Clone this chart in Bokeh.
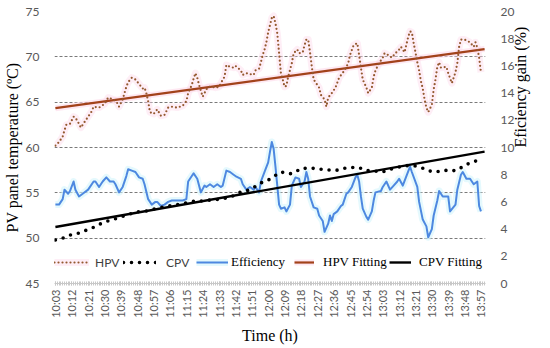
import numpy as np
from bokeh.plotting import figure
from bokeh.models import (Range1d, LinearAxis, FixedTicker, Legend, LegendItem,
                          ColumnDataSource)
from bokeh.embed import file_html
from bokeh.resources import INLINE

# ---------------- data (minutes after 10:03) ----------------
tick_labels = ["10:03", "10:12", "10:21", "10:30", "10:39", "10:48", "10:57",
               "11:06", "11:15", "11:24", "11:33", "11:42", "11:51", "12:00",
               "12:09", "12:18", "12:27", "12:36", "12:45", "12:54", "13:03",
               "13:12", "13:21", "13:30", "13:39", "13:48", "13:57"]
tick_minutes = [0, 9, 18, 27, 36, 45, 54, 63, 72, 81, 90, 99, 108, 117, 126,
                135, 144, 153, 162, 171, 180, 189, 198, 207, 216, 225, 234]

hpv_min = [0, 2, 4, 5, 6, 8, 10, 11, 13, 14,
           16, 18, 20, 21, 24, 27, 29, 32, 34, 35,
           37, 38, 39, 40, 42, 44, 46, 48, 49, 50,
           51, 52, 54, 56, 58, 60, 62, 64, 67, 70,
           72, 73, 75, 76, 77, 78, 79, 81, 83, 84,
           86, 88, 90, 91, 93, 94, 96, 98, 99, 102,
           103, 105, 107, 109, 110, 112, 113, 114, 115, 116,
           117, 118, 119, 120, 121, 122, 123, 124, 125, 126,
           127, 128, 130, 131, 133, 134, 136, 137, 138, 139,
           140, 141, 142, 145, 146, 148, 149, 150, 152, 154,
           156, 159, 161, 162, 164, 166, 167, 168, 169, 171,
           172, 174, 175, 176, 178, 180, 181, 183, 185, 187,
           189, 190, 192, 194, 195, 196, 197, 198, 199, 200,
           201, 202, 203, 204, 205, 207, 208, 209, 210, 211,
           212, 215, 216, 218, 220, 221, 222, 223, 225, 228,
           230, 231, 232, 233, 234]
hpv_temp = [60.2, 60.6, 61.2, 61.9, 62.5, 62.6, 63.4, 63.3, 62.6, 62.2,
            62.8, 63.4, 64.0, 64.5, 64.4, 64.8, 65.5, 65.3, 64.9, 64.5,
            65.3, 66.0, 66.7, 67.2, 67.7, 67.5, 67.0, 66.5, 66.6, 66.0,
            65.1, 63.9, 63.7, 64.2, 63.5, 63.6, 64.4, 64.5, 64.4, 64.6,
            65.1, 66.0, 66.9, 67.6, 68.2, 67.7, 66.9, 65.6, 66.4, 66.7,
            66.7, 66.6, 66.7, 67.1, 67.8, 69.1, 68.9, 68.8, 69.0, 68.5,
            68.0, 68.2, 68.1, 68.0, 68.5, 68.7, 69.4, 70.2, 70.8, 71.6,
            72.7, 73.5, 74.3, 74.5, 73.7, 72.6, 70.4, 68.2, 67.5, 66.7,
            66.8, 67.8, 69.3, 70.4, 70.8, 70.4, 70.5, 71.3, 71.9, 71.9,
            70.5, 68.9, 67.5, 66.6, 65.8, 65.3, 64.5, 65.5, 66.0, 66.6,
            67.7, 68.5, 69.3, 70.2, 71.3, 71.5, 70.2, 68.8, 67.5, 66.6,
            66.0, 66.6, 67.8, 68.5, 69.3, 69.9, 70.4, 70.2, 69.9, 70.4,
            70.8, 71.1, 70.5, 72.2, 72.8, 72.7, 71.5, 70.5, 69.4, 68.5,
            67.3, 66.5, 65.3, 64.4, 63.9, 64.7, 66.4, 67.5, 68.9, 69.4,
            68.8, 68.9, 68.2, 67.1, 68.3, 69.3, 71.1, 71.9, 71.9, 71.6,
            71.1, 71.6, 71.0, 69.9, 68.3]

cpv_min = [0, 4, 7, 12, 16, 21, 25, 29, 34, 40,
           45, 50, 56, 61, 67, 72, 77, 80, 85, 91,
           96, 102, 105, 110, 114, 117, 120, 124, 129, 132,
           135, 139, 142, 146, 151, 155, 159, 163, 167, 170,
           175, 180, 184, 188, 193, 197, 201, 206, 209, 214,
           217, 221, 224, 228, 231, 234]
cpv_temp = [49.8, 50.0, 50.3, 50.5, 50.8, 51.2, 51.6, 51.9, 52.2, 52.6,
            52.9, 53.0, 53.3, 53.5, 53.7, 53.9, 54.1, 54.1, 54.2, 54.3,
            54.5, 55.1, 55.2, 55.7, 56.2, 56.4, 56.8, 57.3, 57.1, 57.3,
            57.7, 57.7, 57.7, 57.6, 57.5, 57.5, 57.7, 57.8, 57.8, 57.5,
            57.4, 57.3, 57.6, 57.8, 58.0, 58.0, 57.8, 57.4, 57.3, 57.5,
            57.4, 57.5, 57.9, 58.3, 58.5, 58.6]

eff_min = [0, 2, 4, 5, 7, 8, 10, 11, 13, 15,
           18, 21, 22, 24, 26, 28, 30, 32, 33, 35,
           37, 39, 40, 42, 44, 46, 48, 49, 51, 53,
           55, 56, 58, 60, 62, 64, 67, 70, 72, 73,
           75, 76, 78, 80, 82, 83, 85, 87, 89, 91,
           92, 94, 96, 98, 99, 102, 103, 105, 107, 109,
           110, 112, 113, 115, 117, 118, 119, 120, 121, 122,
           123, 124, 126, 127, 129, 130, 132, 134, 135, 137,
           138, 139, 140, 142, 144, 145, 147, 148, 150, 151,
           152, 153, 155, 157, 158, 160, 161, 163, 165, 166,
           167, 168, 169, 171, 172, 174, 175, 176, 179, 180,
           182, 184, 186, 188, 189, 191, 193, 195, 196, 199,
           200, 202, 204, 205, 207, 208, 210, 211, 213, 215,
           216, 217, 220, 221, 223, 224, 226, 228, 230, 232,
           233, 234]
eff_gain = [5.8, 5.8, 6.2, 6.9, 6.6, 6.8, 7.5, 6.9, 6.4, 6.6,
            6.9, 7.5, 7.5, 7.1, 7.5, 7.8, 7.5, 7.5, 7.3, 6.7,
            7.1, 7.9, 8.4, 8.3, 8.2, 7.8, 7.7, 7.3, 6.2, 5.8,
            6.0, 6.0, 5.7, 5.8, 6.0, 6.1, 6.1, 6.1, 6.2, 7.5,
            7.9, 8.1, 7.7, 6.7, 7.2, 7.1, 7.3, 7.1, 7.3, 7.1,
            7.2, 8.3, 8.2, 8.0, 7.9, 7.7, 7.3, 6.9, 7.1, 6.9,
            7.1, 6.7, 7.5, 8.2, 8.9, 9.7, 10.4, 9.9, 8.6, 7.2,
            5.8, 5.5, 5.6, 5.3, 5.8, 7.2, 7.8, 7.7, 7.1, 7.5,
            8.2, 7.7, 6.4, 5.6, 5.5, 5.0, 4.6, 3.8, 4.4, 5.0,
            4.6, 5.1, 5.3, 5.7, 5.8, 6.6, 6.7, 7.1, 7.8, 8.0,
            7.5, 6.4, 5.5, 4.9, 4.7, 5.3, 6.1, 6.7, 6.8, 7.1,
            7.5, 6.9, 7.2, 7.5, 7.7, 7.2, 7.9, 8.6, 8.2, 7.1,
            6.0, 4.7, 4.2, 3.4, 4.0, 5.0, 6.1, 6.8, 6.4, 6.4,
            6.4, 5.3, 5.8, 6.9, 8.0, 8.2, 7.7, 7.7, 7.3, 7.5,
            5.7, 5.3]

left_ticks = [45, 50, 55, 60, 65, 70, 75]
right_ticks = [0, 2, 4, 6, 8, 10, 12, 14, 16, 18, 20]

# linear trend lines (least squares, like the spreadsheet trendline)
fit_x = [0, 236]
hpv_k, hpv_b = np.polyfit(hpv_min, hpv_temp, 1)
cpv_k, cpv_b = np.polyfit(cpv_min, cpv_temp, 1)
hpv_fit = [hpv_k * x + hpv_b for x in fit_x]
cpv_fit = [cpv_k * x + cpv_b for x in fit_x]

SANS = "Lato"
SERIF = "Liberation Serif"

p = figure(width=542, height=346, output_backend="svg", toolbar_location=None,
           x_range=Range1d(-0.5, 236.5), y_range=Range1d(45, 75),
           min_border_left=45, min_border_right=57, min_border_top=11,
           min_border_bottom=61)
p.outline_line_color = None
p.background_fill_color = "white"
p.border_fill_color = "white"
p.extra_y_ranges = {"eff": Range1d(0, 20)}

# grid
p.xgrid.visible = False
p.ygrid.ticker = FixedTicker(ticks=left_ticks)
p.ygrid.grid_line_color = "#7a7a7a"
p.ygrid.grid_line_dash = "3 2"
p.ygrid.grid_line_width = 1

# x axis
xa = p.xaxis[0]
xa.ticker = FixedTicker(ticks=tick_minutes, minor_ticks=list(range(0, 237)))
xa.major_label_overrides = {m: s for m, s in zip(tick_minutes, tick_labels)}
xa.major_label_orientation = np.pi / 2
xa.major_label_text_font = SANS
xa.major_label_text_font_size = "11px"
xa.major_label_text_color = "#595959"
xa.major_label_standoff = 4
xa.axis_line_color = "#c8c8c8"
xa.major_tick_line_color = "#c8c8c8"
xa.minor_tick_line_color = "#c8c8c8"
xa.major_tick_in = 2
xa.major_tick_out = 2
xa.minor_tick_in = 2
xa.minor_tick_out = 2
xa.axis_label = "Time (h)"
xa.axis_label_text_font = SERIF
xa.axis_label_text_font_size = "16px"
xa.axis_label_text_font_style = "normal"
xa.axis_label_text_color = "black"
xa.axis_label_standoff = 6

# left axis
ya = p.yaxis[0]
ya.ticker = FixedTicker(ticks=left_ticks)
ya.axis_line_color = None
ya.major_tick_line_color = None
ya.minor_tick_line_color = None
ya.major_label_text_font = SANS
ya.major_label_text_font_size = "12px"
ya.major_label_text_color = "#595959"
ya.major_label_standoff = 9
ya.axis_label = "PV panel temperature (ºC)"
ya.axis_label_text_font = SERIF
ya.axis_label_text_font_size = "16px"
ya.axis_label_text_font_style = "normal"
ya.axis_label_text_color = "black"
ya.axis_label_standoff = 2

# right axis, title reading upwards
ra = LinearAxis(y_range_name="eff", ticker=FixedTicker(ticks=right_ticks))
ra.axis_line_color = None
ra.major_tick_line_color = None
ra.minor_tick_line_color = None
ra.major_label_text_font = SANS
ra.major_label_text_font_size = "12px"
ra.major_label_text_color = "#595959"
ra.major_label_standoff = 9
ra.axis_label = "Eficiency gain (%)"
ra.axis_label_text_font = SERIF
ra.axis_label_text_font_size = "16px"
ra.axis_label_text_font_style = "normal"
ra.axis_label_text_color = "black"
ra.axis_label_text_line_height = 0.8
ra.axis_label_standoff = 3
try:
    ra.axis_label_orientation = np.pi / 2
except Exception:
    pass
p.add_layout(ra, "right")

# sources
hpv_src = ColumnDataSource(dict(x=hpv_min, y=hpv_temp))
cpv_src = ColumnDataSource(dict(x=cpv_min, y=cpv_temp))
eff_src = ColumnDataSource(dict(x=eff_min, y=eff_gain))

# glows
hpv_glow = p.line("x", "y", source=hpv_src, line_color="#fdd9ea", line_width=7,
                  line_alpha=0.45, line_join="round")
eff_glow = p.line("x", "y", source=eff_src, y_range_name="eff", line_color="#d3f5fc",
                  line_width=7, line_alpha=0.6, line_join="round")
hfit_glow = p.line(fit_x, hpv_fit, line_color="#fdd9ea", line_width=6, line_alpha=0.6)

# series
eff_r = p.line("x", "y", source=eff_src, y_range_name="eff", line_color="#4d88e0",
               line_width=2, line_join="round")
hfit_r = p.line(fit_x, hpv_fit, line_color="#a2421a", line_width=2.2)
cfit_r = p.line(fit_x, cpv_fit, line_color="black", line_width=2.4)
hpv_r = p.line("x", "y", source=hpv_src, line_color="#94582e", line_width=2.2,
               line_dash="0 4", line_cap="round")
cpv_r = p.line("x", "y", source=cpv_src, line_color="black", line_width=3.6,
               line_dash="0 8", line_cap="round")

# legends, one per entry
def make_legend(label, renderers, x, glyph_w, standoff, font, size, color):
    lg = Legend(items=[LegendItem(label=label, renderers=renderers)],
                location=(x, 13), orientation="horizontal",
                glyph_width=glyph_w, glyph_height=16, label_height=16,
                label_standoff=standoff, padding=0, margin=0, spacing=0,
                border_line_color=None, background_fill_alpha=0,
                label_text_font=font, label_text_font_size=size,
                label_text_color=color)
    p.add_layout(lg, "center")

make_legend("HPV", [hpv_glow, hpv_r], 0, 35, 6, SANS, "12px", "#404040")
make_legend("CPV", [cpv_r], 69, 33, 10, SANS, "12px", "#404040")
make_legend("Efficiency", [eff_glow, eff_r], 142, 32, 3, SERIF, "13px", "black")
make_legend("HPV Fitting", [hfit_glow, hfit_r], 240, 20, 9, SERIF, "13px", "black")
make_legend("CPV Fitting", [cfit_r], 335, 22, 8, SERIF, "13px", "black")

open("out.html", "w").write(file_html(p, INLINE))
